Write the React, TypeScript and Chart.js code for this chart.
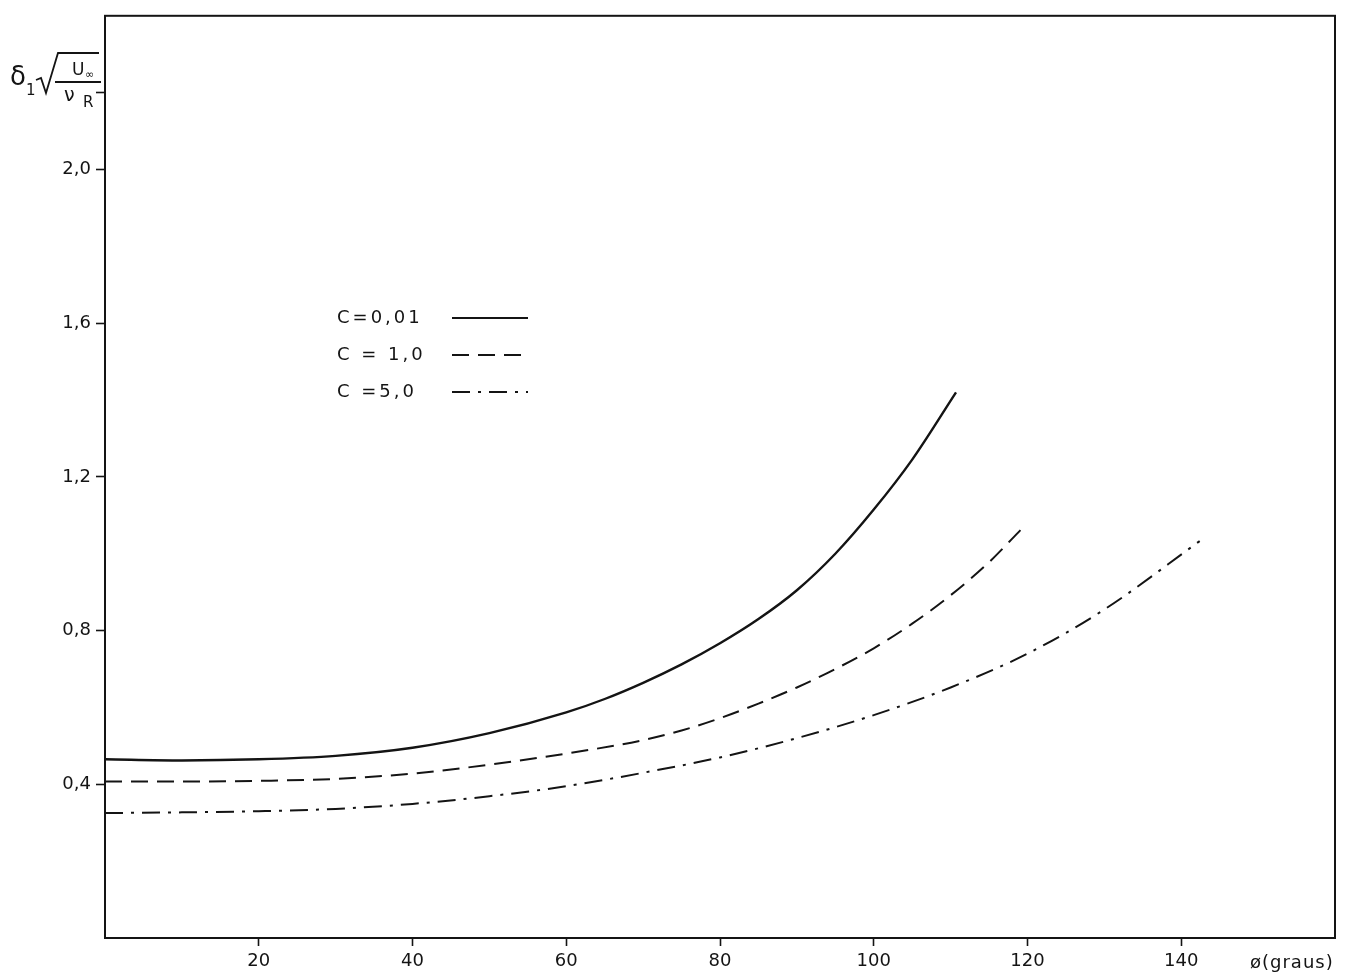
import React, { useEffect, useRef } from 'react';
import { Chart, registerables } from 'chart.js';

Chart.register(...registerables);

// ---- data ----
const phiC001 = [0, 10, 20, 30, 40, 50, 60, 65, 70, 75, 80, 85, 90, 95, 100, 105, 110.7];
const valC001 = [0.465, 0.462, 0.465, 0.474, 0.495, 0.533, 0.587, 0.622, 0.664, 0.712, 0.767, 0.83, 0.905, 1.0, 1.115, 1.245, 1.42];

const phiC1 = [0, 10, 20, 30, 40, 50, 60, 70, 75, 80, 85, 90, 95, 100, 105, 110, 115, 119.2];
const valC1 = [0.407, 0.407, 0.409, 0.414, 0.428, 0.451, 0.48, 0.515, 0.54, 0.572, 0.61, 0.652, 0.7, 0.754, 0.818, 0.892, 0.978, 1.064];

const phiC5 = [0, 10, 20, 30, 40, 50, 60, 70, 80, 90, 100, 110, 120, 130, 142.4];
const valC5 = [0.325, 0.327, 0.33, 0.336, 0.349, 0.369, 0.395, 0.43, 0.47, 0.52, 0.58, 0.652, 0.74, 0.855, 1.033];

const seriesLabels = ['C=0,01', 'C = 1,0', 'C =5,0'];

const xTickValues = [20, 40, 60, 80, 100, 120, 140];
const yTickValues = [0.4, 0.8, 1.2, 1.6, 2.0, 2.2];
const yLabelled = [0.4, 0.8, 1.2, 1.6, 2.0];

const xTitle = 'ø(graus)';

const INK = '#141414';
const FONT = '"DejaVu Sans", sans-serif';
const DASH = [17, 9];
const DASHDOT = [18, 8, 3, 8];

const overlay = {
  id: 'overlay',
  afterDraw(chart: any) {
    const { ctx, chartArea: a } = chart;
    ctx.save();
    // frame
    ctx.strokeStyle = INK;
    ctx.lineWidth = 2;
    ctx.setLineDash([]);
    ctx.strokeRect(a.left, a.top, a.right - a.left, a.bottom - a.top);

    // legend
    ctx.fillStyle = INK;
    ctx.font = `18px ${FONT}`;
    (ctx as any).letterSpacing = '3px';
    ctx.textBaseline = 'middle';
    ctx.textAlign = 'left';
    const dashes = [[], DASH, DASHDOT];
    const widths = [2.2, 1.8, 1.8];
    const ys = [318, 355, 392];
    seriesLabels.forEach((lab, i) => {
      ctx.fillText(lab, 337, ys[i]);
      ctx.beginPath();
      ctx.setLineDash(dashes[i]);
      ctx.lineWidth = widths[i];
      ctx.moveTo(452, ys[i]);
      ctx.lineTo(528, ys[i]);
      ctx.stroke();
    });
    ctx.setLineDash([]);

    // x title
    ctx.font = `18px ${FONT}`;
    (ctx as any).letterSpacing = '1px';
    ctx.fillText(xTitle, 1250, 963);

    // y title: δ1 sqrt(U∞ / νR)
    (ctx as any).letterSpacing = '0px';
    ctx.font = `26px ${FONT}`;
    ctx.fillText('δ', 10, 78);
    ctx.font = `15px ${FONT}`;
    ctx.fillText('1', 26, 91);
    ctx.lineWidth = 1.8;
    ctx.beginPath();
    ctx.moveTo(36, 80);
    ctx.lineTo(41, 78);
    ctx.lineTo(46, 93);
    ctx.lineTo(58, 53);
    ctx.lineTo(99, 53);
    ctx.stroke();
    ctx.beginPath();
    ctx.moveTo(55, 82);
    ctx.lineTo(101, 82);
    ctx.stroke();
    ctx.font = `17px ${FONT}`;
    ctx.fillText('U', 72, 71);
    ctx.font = `11px ${FONT}`;
    ctx.fillText('∞', 85, 75);
    ctx.font = `19px ${FONT}`;
    ctx.fillText('ν', 64, 96);
    ctx.font = `15px ${FONT}`;
    ctx.fillText('R', 83, 103);
    ctx.restore();
  },
};

function toPoints(xs: number[], ys: number[]) {
  return xs.map((x, i) => ({ x, y: ys[i] }));
}

export default function App() {
  const ref = useRef<HTMLCanvasElement | null>(null);

  useEffect(() => {
    if (!ref.current) return;
    const fmt = (v: number) => v.toFixed(1).replace('.', ',');
    const chart = new Chart(ref.current, {
      type: 'line',
      data: {
        datasets: [
          {
            label: seriesLabels[0],
            data: toPoints(phiC001, valC001),
            borderColor: INK,
            borderWidth: 2.4,
            pointRadius: 0,
            cubicInterpolationMode: 'monotone',
          },
          {
            label: seriesLabels[1],
            data: toPoints(phiC1, valC1),
            borderColor: INK,
            borderWidth: 2,
            borderDash: DASH,
            pointRadius: 0,
            cubicInterpolationMode: 'monotone',
          },
          {
            label: seriesLabels[2],
            data: toPoints(phiC5, valC5),
            borderColor: INK,
            borderWidth: 2,
            borderDash: DASHDOT,
            pointRadius: 0,
            cubicInterpolationMode: 'monotone',
          },
        ],
      },
      options: {
        responsive: false,
        animation: false,
        devicePixelRatio: 1,
        layout: { padding: { left: 8, top: 15, right: 24, bottom: 0 } },
        plugins: { legend: { display: false }, tooltip: { enabled: false } },
        scales: {
          x: {
            type: 'linear',
            min: 0,
            max: 160,
            afterBuildTicks: (s: any) => {
              s.ticks = xTickValues.map((v) => ({ value: v }));
            },
            afterFit: (s: any) => {
              s.height = 37;
            },
            ticks: {
              color: INK,
              font: { family: FONT, size: 18 },
              padding: 5,
              maxRotation: 0,
              autoSkip: false,
              callback: (v: any) => String(v),
            },
            grid: { drawOnChartArea: false, tickLength: 8, tickWidth: 1.6, color: INK },
            border: { display: true, color: INK, width: 2 },
          },
          y: {
            type: 'linear',
            min: 0,
            max: 2.4,
            afterBuildTicks: (s: any) => {
              s.ticks = yTickValues.map((v) => ({ value: v }));
            },
            afterFit: (s: any) => {
              s.width = 97;
            },
            ticks: {
              color: INK,
              font: { family: FONT, size: 18 },
              padding: 5,
              autoSkip: false,
              callback: (v: any) => (yLabelled.includes(v) ? fmt(v) : ''),
            },
            grid: { drawOnChartArea: false, tickLength: 9, tickWidth: 1.6, color: INK },
            border: { display: true, color: INK, width: 2 },
          },
        },
      },
      plugins: [overlay],
    } as any);
    return () => chart.destroy();
  }, []);

  return (
    <div style={{ position: 'absolute', left: 0, top: 0, width: 1359, height: 975, background: '#fff' }}>
      <canvas ref={ref} width={1359} height={975} />
    </div>
  );
}
